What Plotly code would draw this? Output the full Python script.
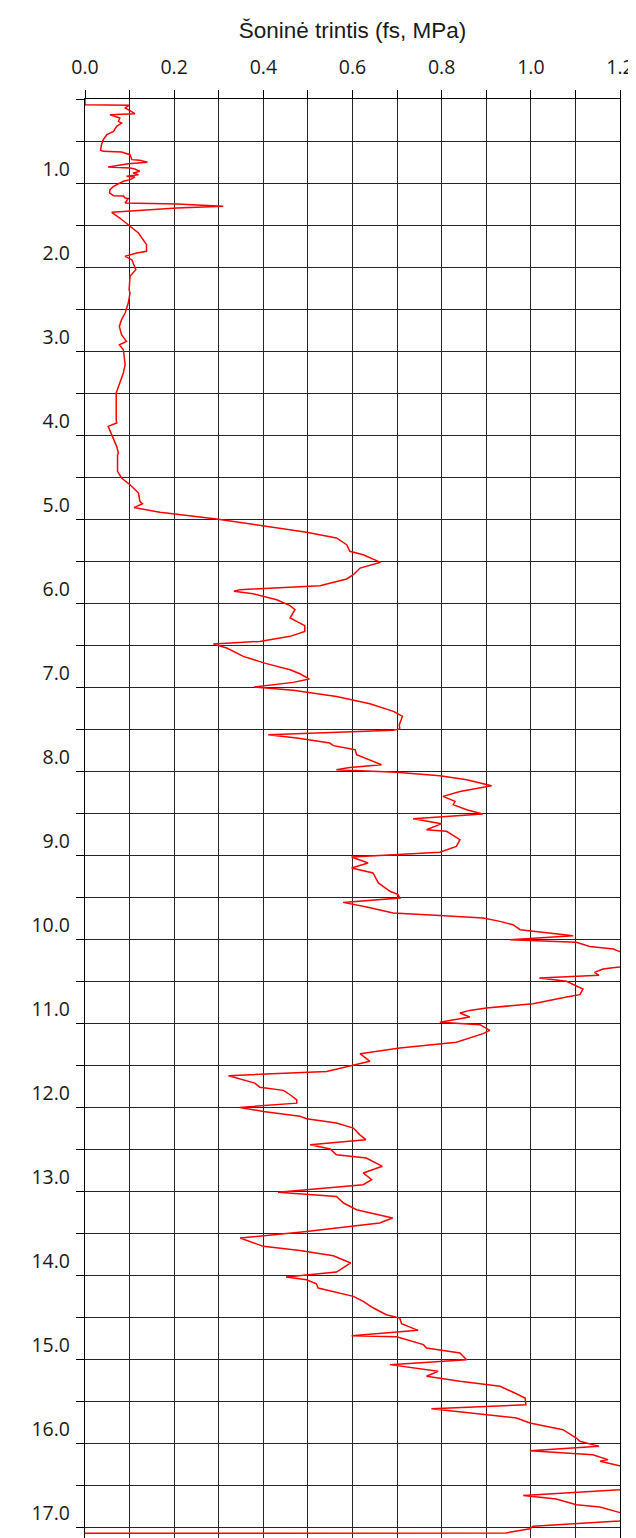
import plotly.graph_objects as go

# Depth (m) and side friction fs (MPa)
depth = [0.000, 0.067, 0.075, 0.107, 0.175, 0.187, 0.226, 0.266, 0.286, 0.325, 0.385, 0.425, 0.484, 0.544,
         0.611, 0.623, 0.631, 0.663, 0.722, 0.730, 0.754, 0.770, 0.810, 0.821, 0.833, 0.861, 0.881, 0.901,
         0.921, 0.929, 0.960, 0.980, 1.040, 1.079, 1.119, 1.151, 1.155, 1.179, 1.185, 1.238, 1.250, 1.278,
         1.298, 1.349, 1.417, 1.496, 1.595, 1.734, 1.813, 1.833, 1.873, 1.913, 2.032, 2.111, 2.270, 2.310,
         2.429, 2.548, 2.627, 2.707, 2.806, 2.885, 2.925, 2.985, 3.163, 3.262, 3.421, 3.500, 3.818, 3.857,
         3.897, 3.996, 4.135, 4.215, 4.234, 4.433, 4.512, 4.592, 4.691, 4.790, 4.818, 4.864, 4.921, 5.000,
         5.079, 5.159, 5.226, 5.306, 5.385, 5.425, 5.516, 5.584, 5.663, 5.714, 5.794, 5.841, 5.861, 5.889,
         5.961, 6.032, 6.080, 6.179, 6.270, 6.338, 6.397, 6.457, 6.488, 6.536, 6.636, 6.722, 6.794, 6.842,
         6.905, 6.945, 6.999, 7.040, 7.112, 7.151, 7.199, 7.290, 7.350, 7.449, 7.500, 7.516, 7.568, 7.608,
         7.667, 7.698, 7.746, 7.806, 7.865, 7.925, 7.957, 7.985, 8.016, 8.056, 8.103, 8.175, 8.243, 8.302,
         8.362, 8.401, 8.461, 8.512, 8.568, 8.627, 8.699, 8.718, 8.818, 8.897, 8.968, 9.024, 9.095, 9.155,
         9.214, 9.333, 9.432, 9.472, 9.512, 9.564, 9.620, 9.691, 9.719, 9.750, 9.790, 9.830, 9.889, 9.961,
         10.008, 10.040, 10.088, 10.120, 10.147, 10.200, 10.300, 10.334, 10.357, 10.397, 10.433, 10.465,
         10.504, 10.564, 10.596, 10.663, 10.691, 10.771, 10.822, 10.850, 10.881, 10.929, 10.992, 11.020,
         11.088, 11.127, 11.230, 11.298, 11.365, 11.456, 11.505, 11.576, 11.628, 11.716, 11.764, 11.802,
         11.854, 11.914, 11.954, 12.005, 12.053, 12.111, 12.140, 12.191, 12.251, 12.329, 12.389, 12.449,
         12.500, 12.568, 12.607, 12.706, 12.786, 12.865, 12.925, 13.016, 13.066, 13.143, 13.223, 13.322,
         13.381, 13.481, 13.560, 13.619, 13.659, 13.707, 13.771, 13.857, 13.965, 14.024, 14.056, 14.104,
         14.155, 14.254, 14.314, 14.393, 14.473, 14.512, 14.579, 14.659, 14.722, 14.735, 14.829, 14.869,
         14.929, 15.008, 15.067, 15.147, 15.206, 15.266, 15.325, 15.405, 15.464, 15.544, 15.593, 15.703,
         15.762, 15.841, 15.941, 15.980, 16.040, 16.091, 16.139, 16.198, 16.218, 16.270, 16.300, 16.530,
         16.556, 16.624, 16.667, 16.735, 16.763, 16.826, 16.860, 16.910, 16.930, 16.990, 17.020, 17.070,
         17.075]

fs = [0.000, 0.000, 0.099, 0.090, 0.112, 0.056, 0.078, 0.075, 0.082, 0.071, 0.064, 0.049, 0.041, 0.037,
      0.035, 0.041, 0.082, 0.101, 0.105, 0.123, 0.140, 0.097, 0.052, 0.101, 0.112, 0.123, 0.108, 0.120,
      0.093, 0.112, 0.101, 0.086, 0.064, 0.056, 0.055, 0.064, 0.086, 0.090, 0.097, 0.090, 0.206, 0.310,
      0.206, 0.060, 0.078, 0.097, 0.120, 0.138, 0.138, 0.116, 0.090, 0.105, 0.114, 0.101, 0.099, 0.101,
      0.097, 0.090, 0.082, 0.077, 0.082, 0.093, 0.077, 0.086, 0.090, 0.086, 0.075, 0.070, 0.070, 0.071,
      0.052, 0.060, 0.071, 0.075, 0.073, 0.073, 0.082, 0.101, 0.120, 0.123, 0.129, 0.110, 0.168, 0.295,
      0.400, 0.497, 0.564, 0.587, 0.594, 0.624, 0.663, 0.617, 0.602, 0.587, 0.527, 0.348, 0.334, 0.377,
      0.430, 0.460, 0.471, 0.460, 0.493, 0.493, 0.460, 0.392, 0.288, 0.318, 0.355, 0.407, 0.460, 0.482,
      0.503, 0.467, 0.379, 0.467, 0.564, 0.600, 0.639, 0.692, 0.712, 0.705, 0.706, 0.691, 0.411, 0.475,
      0.549, 0.557, 0.606, 0.609, 0.639, 0.665, 0.594, 0.564, 0.698, 0.796, 0.856, 0.912, 0.841, 0.803,
      0.830, 0.826, 0.856, 0.892, 0.736, 0.800, 0.766, 0.811, 0.841, 0.833, 0.796, 0.598, 0.635, 0.598,
      0.646, 0.658, 0.684, 0.702, 0.706, 0.579, 0.632, 0.691, 0.796, 0.893, 0.931, 0.960, 0.976, 1.095,
      0.953, 1.102, 1.132, 1.185, 1.198, 1.230, 1.230, 1.198, 1.162, 1.143, 1.153, 1.019,
      1.080, 1.102, 1.117, 1.110, 1.080, 1.005, 0.900, 0.863, 0.841, 0.863, 0.796, 0.886,
      0.908, 0.893, 0.833, 0.706, 0.617, 0.639, 0.602, 0.542, 0.322, 0.381, 0.392, 0.445,
      0.460, 0.475, 0.475, 0.347, 0.400, 0.482, 0.497, 0.564, 0.602, 0.616, 0.630, 0.505,
      0.550, 0.564, 0.631, 0.667, 0.624, 0.643, 0.624, 0.433, 0.564, 0.580, 0.609, 0.690,
      0.661, 0.497, 0.348, 0.377, 0.400, 0.482, 0.557, 0.596, 0.564, 0.451, 0.497, 0.519,
      0.523, 0.602, 0.624, 0.647, 0.676, 0.706, 0.710, 0.747, 0.598, 0.699, 0.759, 0.766,
      0.841, 0.856, 0.684, 0.792, 0.766, 0.841, 0.931, 0.964, 0.987, 0.989, 0.777, 0.968,
      0.998, 1.072, 1.102, 1.110, 1.153, 0.998, 1.139, 1.173, 1.155, 1.199, 1.240, 1.240,
      1.199, 0.983, 1.057, 1.102, 1.155, 1.198, 1.240, 1.240, 1.198, 1.005, 0.998, 0.945,
      0.000]

x_tick_vals = [0.0, 0.2, 0.4, 0.6, 0.8, 1.0, 1.2]
x_tick_text = ["0.0", "0.2", "0.4", "0.6", "0.8", "1.0", "1.2"]
y_tick_vals = [1, 2, 3, 4, 5, 6, 7, 8, 9, 10, 11, 12, 13, 14, 15, 16, 17]
y_tick_text = ["1.0", "2.0", "3.0", "4.0", "5.0", "6.0", "7.0", "8.0", "9.0", "10.0",
               "11.0", "12.0", "13.0", "14.0", "15.0", "16.0", "17.0"]
title_text = "Šoninė trintis (fs, MPa)"

# page body has an 8px margin, so the figure is sized/offset to compensate
W, H = 636, 1530
top, left, right = 91, 77, 24
px_per_m = 84.0
y_max = (H - top) / px_per_m

fig = go.Figure(go.Scatter(x=fs, y=depth, mode="lines",
                           line=dict(color="#ff0000", width=1.5), showlegend=False,
                           hoverinfo="skip"))

grid_col = "#262626"
tick_font = dict(family="Open Sans", size=19.5, color="#1a1a1a")

fig.update_layout(
    width=W, height=H,
    margin=dict(l=left, r=right, t=top, b=0, pad=0),
    paper_bgcolor="white", plot_bgcolor="white",
    title=dict(text=title_text, x=0.5, xref="paper", xanchor="center",
               y=1 - 22 / H, yref="container", yanchor="middle",
               font=dict(family="Liberation Sans, Arial", size=22.5, color="#1a1a1a")),
    xaxis=dict(side="top", range=[0, 1.2], tickmode="array", tickvals=x_tick_vals,
               ticktext=x_tick_text, tickfont=tick_font,
               showgrid=True, gridcolor=grid_col, gridwidth=1, zeroline=False,
               showline=True, linecolor="black", linewidth=1.2,
               ticks="outside", ticklen=8, tickcolor="black", tickwidth=1,
               ticklabelstandoff=8,
               minor=dict(dtick=0.1, tick0=0, showgrid=True, gridcolor=grid_col, gridwidth=1,
                          ticks="outside", ticklen=8, tickcolor="black", tickwidth=1),
               fixedrange=True),
    yaxis=dict(range=[y_max, 0], tickmode="array", tickvals=y_tick_vals, ticktext=y_tick_text,
               tickfont=tick_font, ticklabelposition="outside top", ticklabelstandoff=10,
               showgrid=True, gridcolor=grid_col, gridwidth=1, zeroline=False,
               showline=True, linecolor="black", linewidth=1.2, mirror=True,
               ticks="outside", ticklen=8, tickcolor="black", tickwidth=1,
               minor=dict(dtick=0.5, tick0=0, showgrid=True, gridcolor=grid_col, gridwidth=1,
                          ticks="outside", ticklen=8, tickcolor="black", tickwidth=1),
               fixedrange=True),
)

fig.write_html("out.html")
